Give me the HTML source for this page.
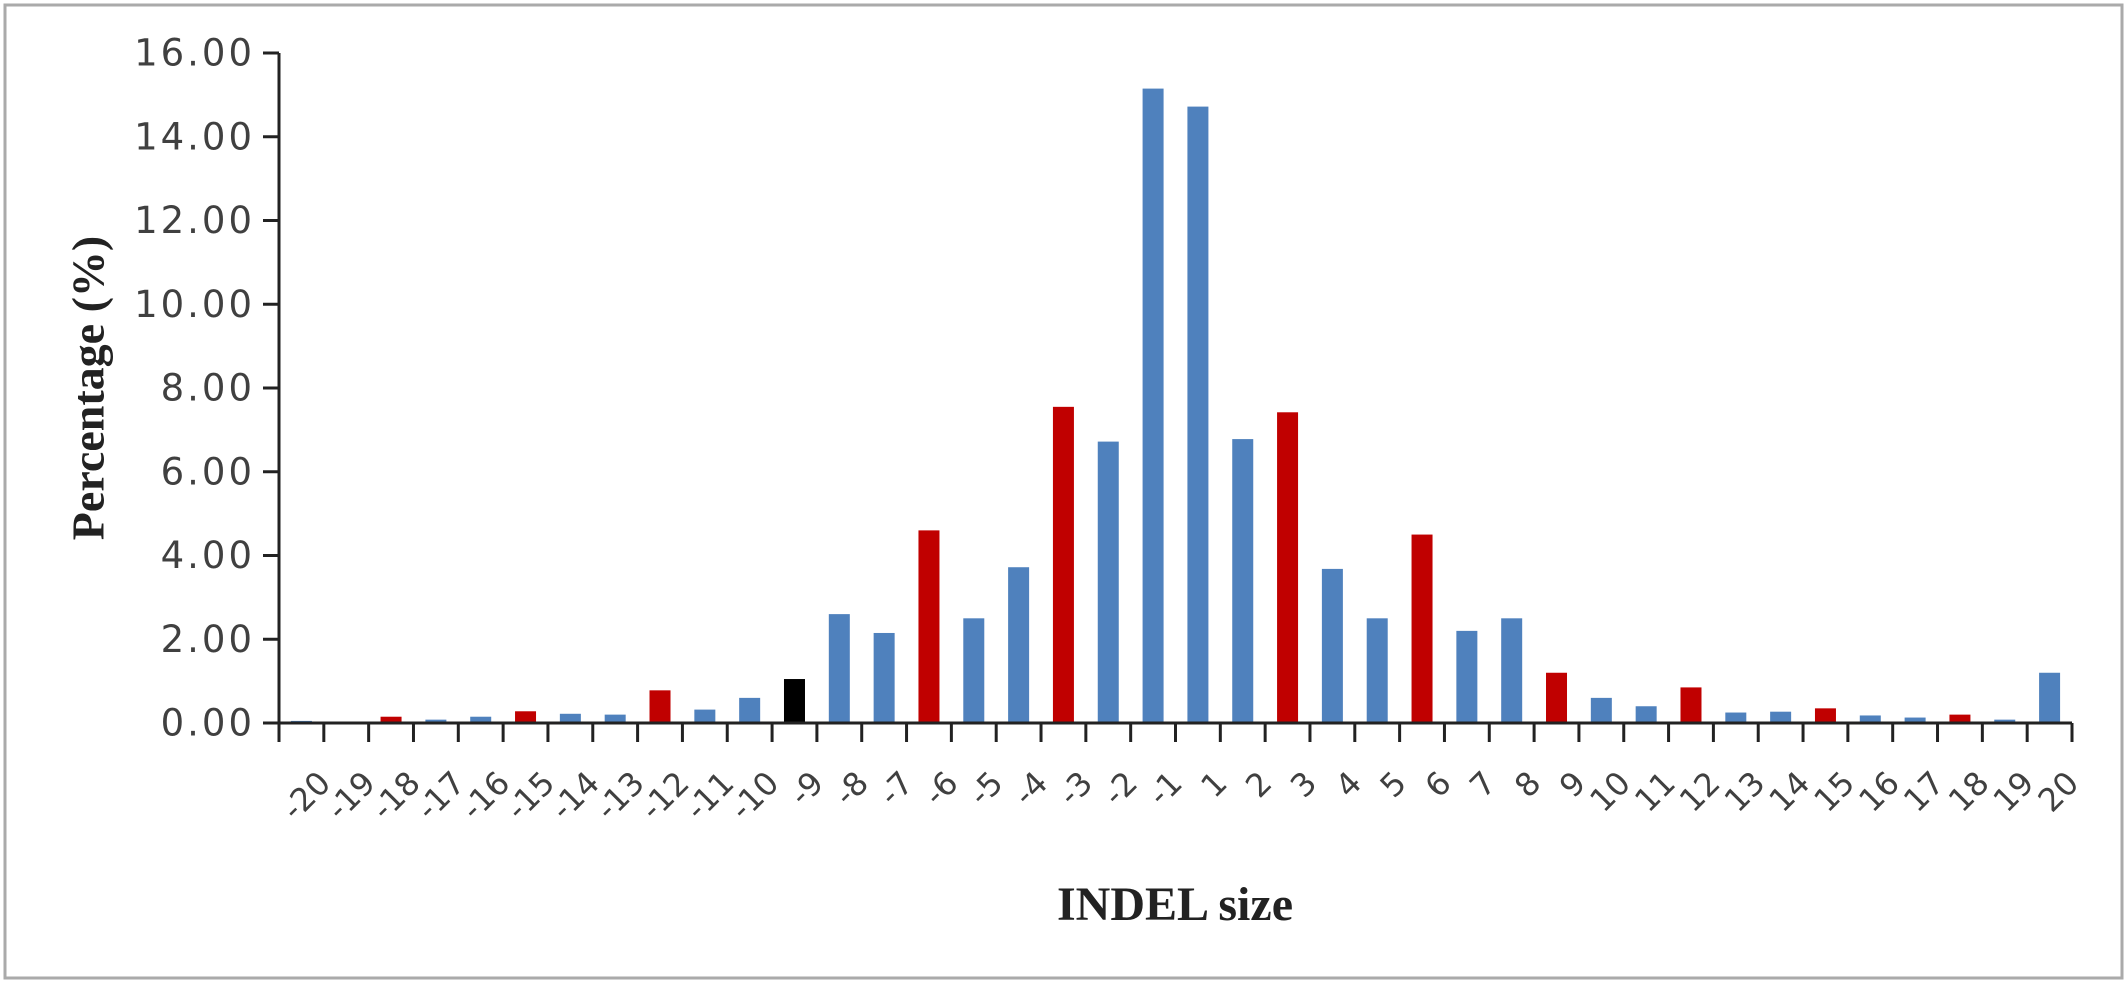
<!DOCTYPE html>
<html><head><meta charset="utf-8"><style>
html,body{margin:0;padding:0;background:#fff;}
svg{display:block;}
</style></head><body>
<svg id="chart" width="2128" height="987" xmlns="http://www.w3.org/2000/svg">
<rect x="5" y="5" width="2117" height="973" fill="#fff" stroke="#aaa" stroke-width="3"/>
<g id="bars"></g>
<g id="axes"></g>
<text x="88" y="388" transform="rotate(-90 88 388)" text-anchor="middle" dominant-baseline="central" font-family="Liberation Serif, serif" font-weight="bold" font-size="46" fill="#222">Percentage (%)</text>
<text x="1175" y="920" text-anchor="middle" font-family="Liberation Serif, serif" font-weight="bold" font-size="48" fill="#222">INDEL size</text>
</svg>
<script>
const categories = ["-20","-19","-18","-17","-16","-15","-14","-13","-12","-11","-10","-9","-8","-7","-6","-5","-4","-3","-2","-1","1","2","3","4","5","6","7","8","9","10","11","12","13","14","15","16","17","18","19","20"];
const values = [0.05,0.02,0.15,0.08,0.15,0.28,0.22,0.2,0.78,0.32,0.6,1.05,2.6,2.15,4.6,2.5,3.72,7.55,6.72,15.15,14.72,6.78,7.42,3.68,2.5,4.5,2.2,2.5,1.2,0.6,0.4,0.85,0.25,0.27,0.35,0.18,0.13,0.2,0.08,1.2];
const barColors = ["b","b","r","b","b","r","b","b","r","b","b","k","b","b","r","b","b","r","b","b","b","b","r","b","b","r","b","b","r","b","b","r","b","b","r","b","b","r","b","b"];
const yTicks = [0,2,4,6,8,10,12,14,16];
const yTickLabels = ["0.00","2.00","4.00","6.00","8.00","10.00","12.00","14.00","16.00"];

const NS="http://www.w3.org/2000/svg";
const X0=279, X1=2072, Y0=723, Y1=53, YMAX=16;
const bw=(X1-X0)/categories.length;
const xPos=i=>X0+i*bw;
const yPos=v=>Y0-(v/YMAX)*(Y0-Y1);
const colorMap={b:"#4f81bd",r:"#c00000",k:"#000000"};
const bars=document.getElementById('bars');
const axes=document.getElementById('axes');
function mk(tag,attrs,parent){const e=document.createElementNS(NS,tag);for(const k in attrs)e.setAttribute(k,attrs[k]);parent.appendChild(e);return e;}

values.forEach((v,i)=>{
  const w=21;
  const r=mk('rect',{x:xPos(i)+(bw-w)/2,y:yPos(v),width:w,height:Y0-yPos(v),fill:colorMap[barColors[i]]},bars);
  
  
});

const ya=mk('line',{x1:X0,y1:Y1,x2:X0,y2:Y0,stroke:"#222","stroke-width":3},axes);


const xa=mk('line',{x1:X0-16,y1:Y0,x2:X1,y2:Y0,stroke:"#222","stroke-width":3},axes);



yTicks.forEach((t,i)=>{
  const y=yPos(t);
  const tk=mk('line',{x1:X0-16,y1:y,x2:X0,y2:y,stroke:"#222","stroke-width":3},axes);
  
  
  const tx=mk('text',{x:X0-24,y:y,"text-anchor":"end","dominant-baseline":"central","font-family":"DejaVu Sans, sans-serif","font-size":37,"letter-spacing":3,fill:"#404040"},axes);
  tx.textContent=yTickLabels[i];
  
  
});

for(let i=0;i<=categories.length;i++){
  const x=xPos(i);
  const tk=mk('line',{x1:x,y1:Y0,x2:x,y2:Y0+19,stroke:"#222","stroke-width":3},axes);
  
  
}
categories.forEach((c,i)=>{
  const cx=xPos(i)+bw/2+14, cy=768;
  const tx=mk('text',{x:cx,y:cy,"text-anchor":"end","dominant-baseline":"hanging",transform:`rotate(-45 ${cx} ${cy})`,"font-family":"DejaVu Sans, sans-serif","font-size":32,fill:"#404040"},axes);
  tx.textContent=c;
  
  
});
</script>
</body></html>
